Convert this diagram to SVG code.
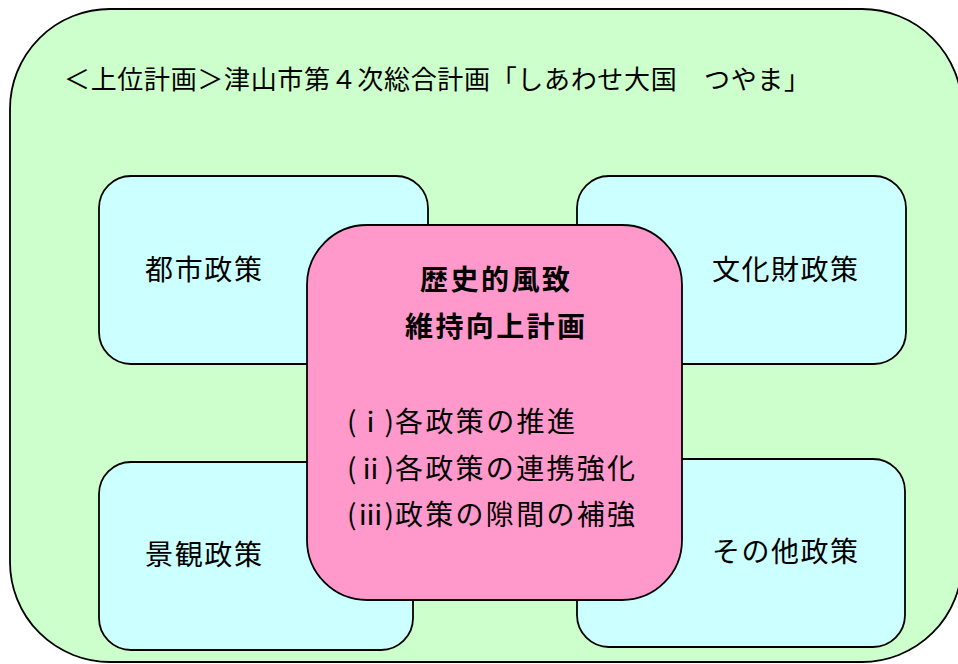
<svg xmlns="http://www.w3.org/2000/svg" width="958" height="664" viewBox="0 0 958 664">
<style>
.box{stroke:#000;stroke-width:1.8}
.outer{fill:#CCFFCC}
.blue{fill:#CCFFFF}
.pink{fill:#FF99CC}
text{font-family:"Noto Sans CJK JP","Noto Sans CJK SC",sans-serif;fill:#000;dominant-baseline:central}
.lbl{font-size:28px}
.ttl{font-size:26px}
.bold{font-size:28px;font-weight:bold}
</style>
<rect width="958" height="664" fill="#fff"/>
<g id="upper-plan">
<rect class="box outer" x="10" y="9" width="952" height="653" rx="100" ry="100"/>
<text class="ttl" x="64" y="77" textLength="746" lengthAdjust="spacing">＜上位計画＞津山市第４次総合計画「しあわせ大国　つやま」</text>
</g>
<g id="toshi">
<rect class="box blue" x="99" y="176" width="329" height="188" rx="32" ry="32"/>
<text class="lbl" x="145" y="268" textLength="117" lengthAdjust="spacing">都市政策</text>
</g>
<g id="bunkazai">
<rect class="box blue" x="577" y="176" width="329" height="188" rx="32" ry="32"/>
<text class="lbl" x="712" y="268" textLength="146" lengthAdjust="spacing">文化財政策</text>
</g>
<g id="keikan">
<rect class="box blue" x="99" y="462" width="314" height="188" rx="32" ry="32"/>
<text class="lbl" x="145" y="553" textLength="117" lengthAdjust="spacing">景観政策</text>
</g>
<g id="sonota">
<rect class="box blue" x="577" y="459" width="328" height="188" rx="32" ry="32"/>
<text class="lbl" x="712" y="550" textLength="146" lengthAdjust="spacing">その他政策</text>
</g>
<g id="rekishi">
<rect class="box pink" x="307" y="225" width="375" height="375" rx="60" ry="60"/>
<text class="bold" x="420" y="278" textLength="150" lengthAdjust="spacing">歴史的風致</text>
<text class="bold" x="405" y="325" textLength="180" lengthAdjust="spacing">維持向上計画</text>
<text class="lbl" y="420"><tspan x="347" textLength="47" lengthAdjust="spacingAndGlyphs">(ⅰ)</tspan><tspan x="395" textLength="180" lengthAdjust="spacing">各政策の推進</tspan></text>
<text class="lbl" y="467"><tspan x="347" textLength="47" lengthAdjust="spacingAndGlyphs">(ⅱ)</tspan><tspan x="395" textLength="240" lengthAdjust="spacing">各政策の連携強化</tspan></text>
<text class="lbl" y="513"><tspan x="347" textLength="47" lengthAdjust="spacingAndGlyphs">(ⅲ)</tspan><tspan x="395" textLength="240" lengthAdjust="spacing">政策の隙間の補強</tspan></text>
</g>
<g id="connectors"></g>
</svg>
